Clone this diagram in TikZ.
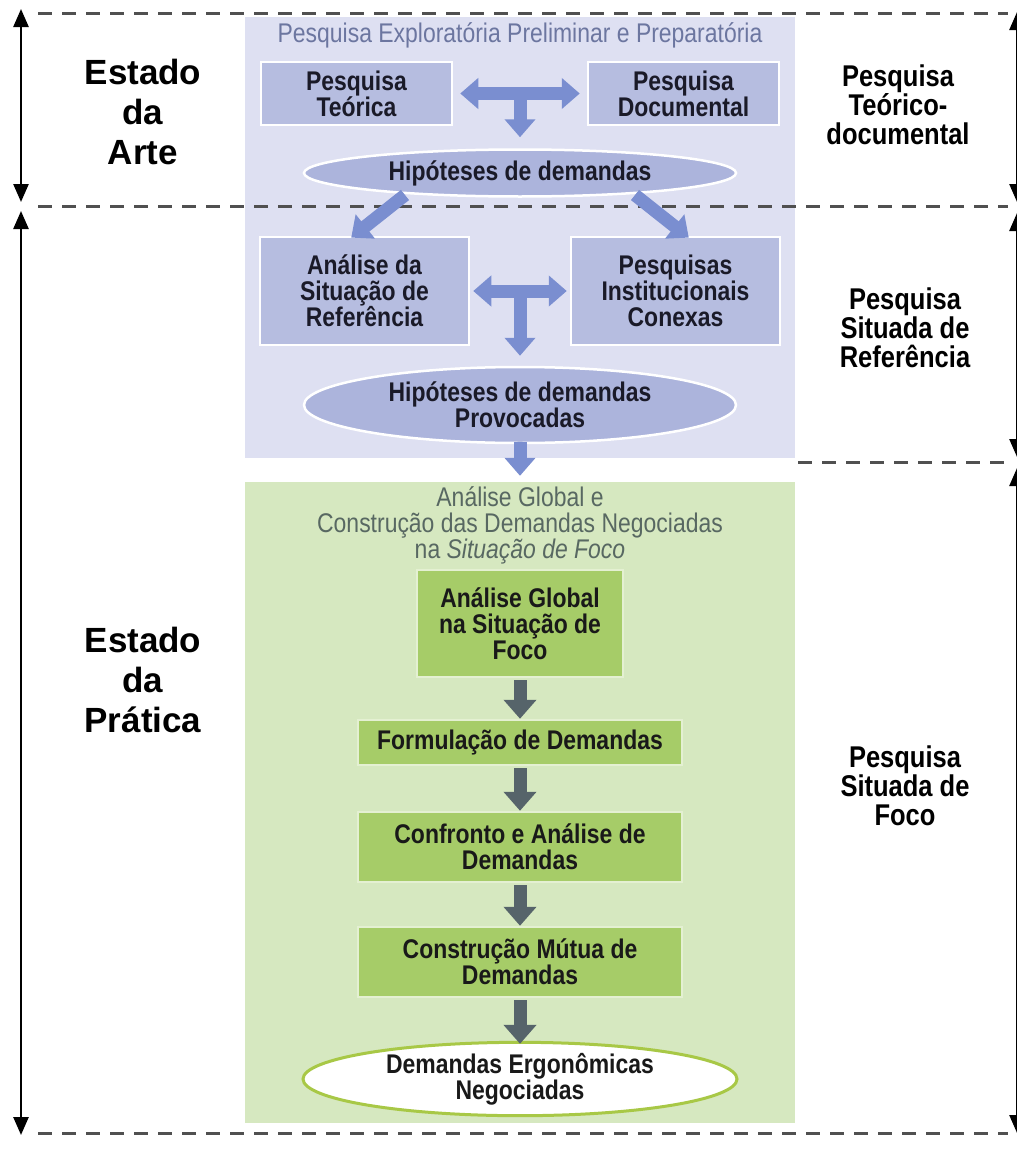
\documentclass[tikz,border=0pt]{standalone}
\usepackage{fontspec}
\setmainfont{Liberation Sans}[FakeStretch=0.85]
\newfontfamily\widefont{Liberation Sans}
\usetikzlibrary{arrows.meta,shapes.geometric}
\definecolor{bpanel}{RGB}{222,224,242}
\definecolor{bbox}{RGB}{182,189,224}
\definecolor{bell}{RGB}{172,180,220}
\definecolor{barrow}{RGB}{122,142,208}
\definecolor{btitle}{RGB}{108,118,160}
\definecolor{gpanel}{RGB}{214,232,192}
\definecolor{gbox}{RGB}{166,204,104}
\definecolor{garrow}{RGB}{86,100,106}
\definecolor{gtitle}{RGB}{88,104,98}
\definecolor{gell}{RGB}{168,200,70}
\definecolor{dashgray}{RGB}{80,80,80}
\definecolor{btext}{RGB}{26,26,40}
\begin{document}
\begin{tikzpicture}[x=1pt,y=-1pt,
  boxfont/.style={font=\fontsize{27}{26}\selectfont\bfseries},
  bluebox/.style={boxfont,draw=white,line width=2.5pt,fill=bbox,text=btext,align=center,inner sep=0pt},
  blueell/.style={boxfont,ellipse,draw=white,line width=2.5pt,fill=bell,text=btext,align=center,inner sep=0pt},
  greenbox/.style={boxfont,draw=white!70!gbox,line width=2.5pt,fill=gbox,text=black!90,align=center,inner sep=0pt},
  greenell/.style={boxfont,ellipse,draw=gell,line width=3pt,fill=white,text=black!90,align=center,inner sep=0pt},
  paneltitle/.style={font=\fontsize{27}{26}\selectfont,align=center},
  sidelabel/.style={font=\fontsize{30}{29}\selectfont\bfseries,align=center},
  biglabel/.style={font=\widefont\fontsize{35}{40}\selectfont\bfseries,align=center},
  fatblue/.style={draw=barrow,line width=13pt,-{Triangle[width=30pt,length=18pt]}},
  fatbluedbl/.style={draw=barrow,line width=13pt,{Triangle[width=30pt,length=18pt]}-{Triangle[width=30pt,length=18pt]}},
  fatgreen/.style={draw=garrow,line width=13pt,-{Triangle[width=32pt,length=19pt]}},
  sep/.style={draw=dashgray,line width=3pt,dash pattern=on 14pt off 10pt},
  dim/.style={draw=black,line width=2.5pt,{Triangle[width=15pt,length=18pt]}-{Triangle[width=15pt,length=18pt]}}
]
\useasboundingbox[fill=white] (0,0) rectangle (1017,1151);

% panels
\node[fill=bpanel,minimum width=550pt,minimum height=441pt,inner sep=0pt] (bp) at (520,237.5) {};
\node[fill=gpanel,minimum width=550pt,minimum height=641pt,inner sep=0pt] (gp) at (520,802.5) {};

% separators
\coordinate (s1a) at (38,13);   \coordinate (s1b) at (1008,13);
\coordinate (s2a) at (38,206);  \coordinate (s2b) at (1008,206);
\coordinate (s3a) at (798,462); \coordinate (s3b) at (1008,462);
\coordinate (s4a) at (38,1133); \coordinate (s4b) at (1008,1133);
\draw[sep] (s1a) -- (s1b);
\draw[sep] (s2a) -- (s2b);
\draw[sep] (s3a) -- (s3b);
\draw[sep] (s4a) -- (s4b);

% blue section
\node[paneltitle,text=btitle] (bt) at (520,35) {Pesquisa Exploratória Preliminar e Preparatória};
\node[bluebox,minimum width=191pt,minimum height=63pt] (pt) at (356.5,93.5) {Pesquisa\\Teórica};
\node[bluebox,minimum width=191pt,minimum height=63pt] (pd) at (683.5,93.5) {Pesquisa\\Documental};
\node[blueell,minimum width=432pt,minimum height=47pt] (h1) at (520,173) {Hipóteses de demandas};
\coordinate (j1) at (520,93.5);
\draw[fatbluedbl,shorten <=7pt,shorten >=7pt] (pt) -- (pd);
\draw[fatblue,shorten >=11pt] (j1) -- (h1.north);

\node[bluebox,minimum width=209pt,minimum height=108pt] (ar) at (364.5,291) {Análise da\\Situação de\\Referência};
\node[bluebox,minimum width=209pt,minimum height=108pt] (pi) at (675.5,291) {Pesquisas\\Institucionais\\Conexas};
\node[blueell,minimum width=432pt,minimum height=76pt] (h2) at (520,405) {Hipóteses de demandas\\Provocadas};
\coordinate (dl) at (405,195);
\coordinate (dr) at (635,195);
\draw[fatblue,shorten >=-1pt] (dl) -- (352,237) coordinate (dlt);
\draw[fatblue,shorten >=-1pt] (dr) -- (688,237) coordinate (drt);
\coordinate (j2) at (520,291);
\draw[fatbluedbl,shorten <=3pt,shorten >=3pt] (ar) -- (pi);
\draw[fatblue,shorten >=10pt] (j2) -- (h2.north);
\draw[fatblue,shorten <=-2pt,shorten >=6pt] (h2.south) -- (gp.north);

% green section
\node[paneltitle,text=gtitle] (gt) at (520,525) {Análise Global e\\Construção das Demandas Negociadas\\na \textit{Situação de Foco}};
\node[greenbox,minimum width=206pt,minimum height=107pt] (ag) at (520,623.5) {Análise Global\\na Situação de\\Foco};
\node[greenbox,minimum width=324pt,minimum height=45pt] (fd) at (520,742.5) {Formulação de Demandas};
\node[greenbox,minimum width=324pt,minimum height=70pt] (cd) at (520,847) {Confronto e Análise de\\Demandas};
\node[greenbox,minimum width=324pt,minimum height=70pt] (md) at (520,962) {Construção Mútua de\\Demandas};
\node[greenell,minimum width=434pt,minimum height=72pt] (en) at (520,1079) {Demandas Ergonômicas\\Negociadas};
\draw[fatgreen,shorten <=2pt] (ag) -- (fd);
\draw[fatgreen,shorten <=2pt] (fd) -- (cd);
\draw[fatgreen,shorten <=2pt] (cd) -- (md);
\draw[fatgreen,shorten <=2pt,shorten >=-3pt] (md) -- (en);

% side labels
\node[biglabel] (ea) at (143,112) {Estado\\da\\Arte};
\node[biglabel] (ep) at (143,680) {Estado\\da\\Prática};
\node[sidelabel] (rt) at (898,105) {Pesquisa\\Teórico-\\documental};
\node[sidelabel] (rr) at (905,328) {Pesquisa\\Situada de\\Referência};
\node[sidelabel] (rf) at (905,786) {Pesquisa\\Situada de\\Foco};

% dimension arrows
\coordinate (l1a) at (21,9);   \coordinate (l1b) at (21,202);
\coordinate (l2a) at (21,211); \coordinate (l2b) at (21,1135);
\coordinate (r1a) at (1017,12);  \coordinate (r1b) at (1017,202);
\coordinate (r2a) at (1017,213); \coordinate (r2b) at (1017,457);
\coordinate (r3a) at (1017,468); \coordinate (r3b) at (1017,1133);
\draw[dim] (l1a) -- (l1b);
\draw[dim] (l2a) -- (l2b);
\draw[dim] (r1a) -- (r1b);
\draw[dim] (r2a) -- (r2b);
\draw[dim] (r3a) -- (r3b);
\end{tikzpicture}
\end{document}
